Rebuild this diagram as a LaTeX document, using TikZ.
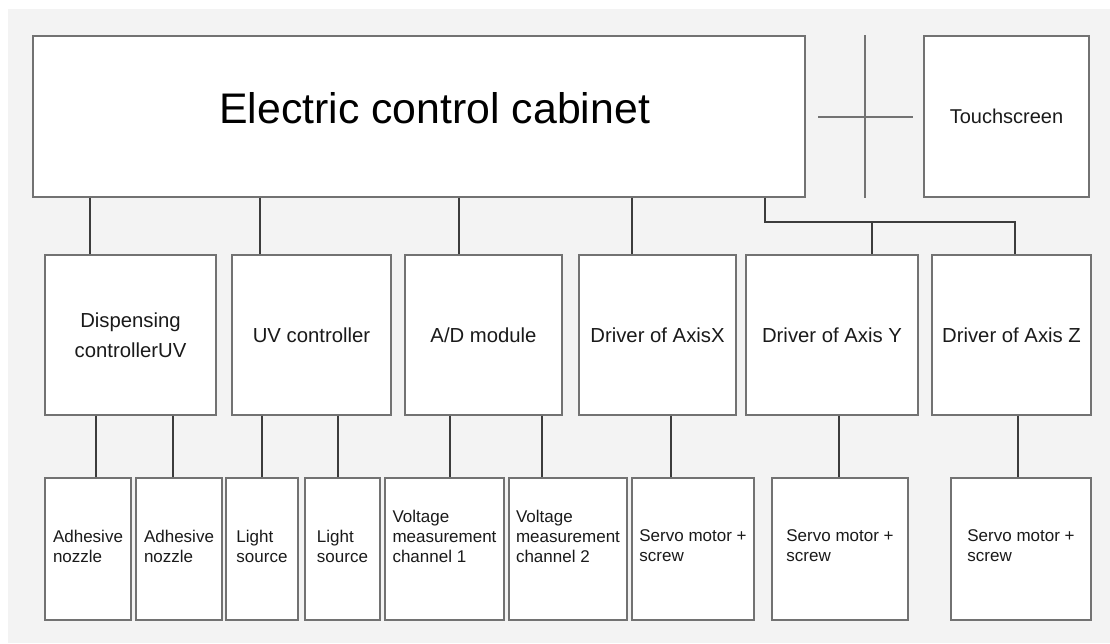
\documentclass[tikz,border=0pt]{standalone}
\usepackage{fontspec}
\setmainfont{Liberation Sans}
\usepackage{xcolor}
\usepackage{tikz}
\usetikzlibrary{positioning,calc}
\definecolor{paper}{HTML}{F3F3F3}
\definecolor{edge}{HTML}{727272}
\definecolor{wire}{HTML}{3C3C3C}
\definecolor{ink}{HTML}{1A1A1A}

\begin{document}
\begin{tikzpicture}[x=1pt,y=-1pt,
  unit/.style={draw=edge,fill=white,line width=1.4pt,inner sep=0pt,text=ink},
  wire/.style={draw=wire,line width=1.1pt},
  midfont/.style={font=\fontsize{20.3}{30}\selectfont,align=center},
  lowfont/.style={font=\fontsize{17}{20}\selectfont,align=left,text=ink}]
  \useasboundingbox (0,0) rectangle (1110,643);
  \fill[paper] (8,9) rectangle (1110,643);
  % cabinet and screen
  \node[unit,minimum width=772pt,minimum height=161pt] (cab) at (419,116.5) {};
  \node[font=\fontsize{42.8}{50}\selectfont,text=black,anchor=base] (title) at (434.7,123.3) {Electric control cabinet};
  \node[unit,minimum width=165pt,minimum height=161pt,font=\fontsize{20}{24}\selectfont] (scr) at (1006.5,116.5) {Touchscreen};
  \coordinate (crs) at (865,117);
  \draw[edge,line width=1.2pt] (crs |- cab.north) -- (crs |- cab.south);
  \draw[edge,line width=1.2pt] ([xshift=-47pt]crs) -- ([xshift=48pt]crs);
  % controllers
  \foreach \nm/\x/\w/\lab in {disp/130.5/171/{Dispensing\\controllerUV},uvc/311.5/159/{UV controller},adm/483.5/157/{A/D module},drvx/657.5/157/{Driver of AxisX},drvy/832/172/{Driver of Axis Y},drvz/1011.5/159/{Driver of Axis Z}}
    \node[unit,midfont,minimum width=\w pt,minimum height=160pt] (\nm) at (\x,335) {\lab};
  % end devices
  \foreach \nm/\x/\w/\lab/\dy in {adh1/88/86/{Adhesive\\nozzle}/3,adh2/179/86/{Adhesive\\nozzle}/3,lit1/262/72/{Light\\source}/3,lit2/342.5/75/{Light\\source}/3,vol1/444.5/119/{Voltage\\measurement\\channel 1}/13,vol2/568/118/{Voltage\\measurement\\channel 2}/13,srv1/693/122/{Servo motor +\\screw}/3,srv2/840/136/{Servo motor +\\screw}/3,srv3/1021/140/{Servo motor +\\screw}/3}{
    \node[unit,minimum width=\w pt,minimum height=142pt] (\nm) at (\x,549) {};
    \node[lowfont,yshift=\dy pt] (\nm-t) at (\nm.center) {\lab};}
  % wiring
  \foreach \x/\nm in {90/disp,260/uvc,459/adm,632/drvx}{
    \coordinate (k) at (\x,0);
    \draw[wire] (cab.south -| k) -- (\nm.north -| k);}
  \coordinate (bus) at (765,222);
  \coordinate (jy) at (872,222);
  \coordinate (jz) at (1015,222);
  \draw[wire] (cab.south -| bus) -- (bus) -- (jz) -- (jz |- drvz.north);
  \draw[wire] (jy) -- (jy |- drvy.north);
  \foreach \x/\src/\dst in {96/disp/adh1,173/disp/adh2,262/uvc/lit1,338/uvc/lit2,450/adm/vol1,542/adm/vol2,671/drvx/srv1,839/drvy/srv2,1018/drvz/srv3}{
    \coordinate (k) at (\x,0);
    \draw[wire] (\src.south -| k) -- (\dst.north -| k);}
\end{tikzpicture}
\end{document}
